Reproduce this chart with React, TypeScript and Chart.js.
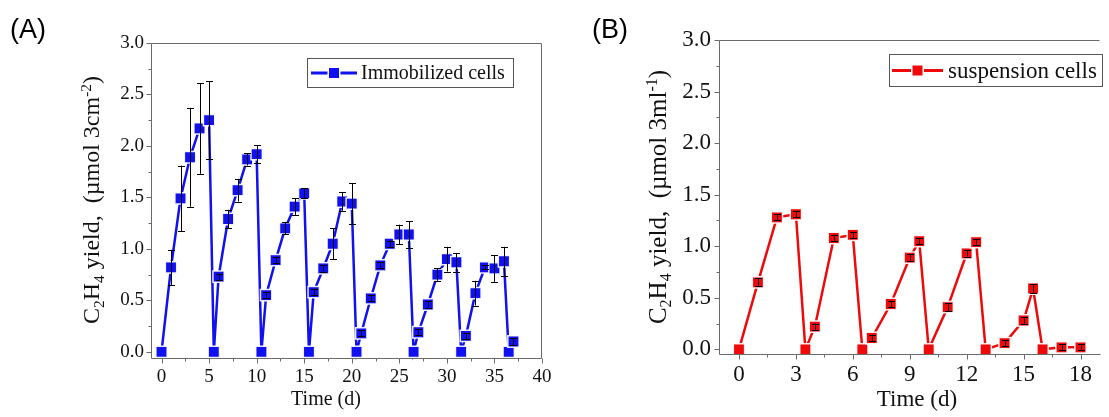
import { useEffect, useRef } from "react";
import { Chart, registerables } from "chart.js";

Chart.register(...registerables);

// Panel A: immobilized cells, repeated incubation cycles
const immobilizedDays = [0, 1, 2, 3, 4, 5, 5.5, 6, 7, 8, 9, 10, 10.5, 11, 12, 13, 14, 15, 15.5, 16, 17, 18, 19, 20, 20.5, 21, 22, 23, 24, 25, 26, 26.5, 27, 28, 29, 30, 31, 31.5, 32, 33, 34, 35, 36, 36.5, 37];
const immobilizedYield = [0, 0.82, 1.49, 1.89, 2.17, 2.25, 0, 0.73, 1.29, 1.57, 1.87, 1.92, 0, 0.55, 0.89, 1.2, 1.41, 1.54, 0, 0.58, 0.81, 1.05, 1.46, 1.44, 0, 0.18, 0.52, 0.84, 1.05, 1.14, 1.14, 0, 0.19, 0.46, 0.75, 0.9, 0.87, 0, 0.155, 0.57, 0.82, 0.81, 0.88, 0, 0.1];
const immobilizedSd = [0, 0.17, 0.32, 0.48, 0.44, 0.38, 0, 0.03, 0.09, 0.11, 0.06, 0.09, 0, 0.03, 0.03, 0.06, 0.08, 0.05, 0, 0.03, 0.03, 0.15, 0.09, 0.2, 0, 0.03, 0.03, 0.03, 0.03, 0.095, 0.13, 0, 0.03, 0.03, 0.06, 0.12, 0.09, 0, 0.03, 0.12, 0.02, 0.13, 0.14, 0, 0.03];

// Panel B: suspension cells
const suspensionDays = [0, 1, 2, 3, 3.5, 4, 5, 6, 6.5, 7, 8, 9, 9.5, 10, 11, 12, 12.5, 13, 14, 15, 15.5, 16, 17, 18];
const suspensionYield = [0, 0.65, 1.28, 1.31, 0, 0.22, 1.08, 1.11, 0, 0.11, 0.44, 0.89, 1.05, 0, 0.41, 0.93, 1.04, 0, 0.06, 0.28, 0.59, 0, 0.02, 0.02];
const suspensionSd = [0, 0.04, 0.03, 0.03, 0, 0.03, 0.03, 0.03, 0, 0.03, 0.03, 0.03, 0.03, 0, 0.04, 0.03, 0.03, 0, 0.03, 0.03, 0.04, 0, 0.03, 0.03];

// Axis ticks
const yieldMajorTicks = [0, 0.5, 1, 1.5, 2, 2.5, 3];
const yieldMinorTicks = [0.25, 0.75, 1.25, 1.75, 2.25, 2.75];
const dayMajorTicksA = [0, 5, 10, 15, 20, 25, 30, 35, 40];
const dayMinorTicksA = [2.5, 7.5, 12.5, 17.5, 22.5, 27.5, 32.5, 37.5];
const dayMajorTicksB = [0, 3, 6, 9, 12, 15, 18];
const dayMinorTicksB = [1.5, 4.5, 7.5, 10.5, 13.5, 16.5];

const SERIF = '"Liberation Serif", "Times New Roman", serif';
const SANS = '"Liberation Sans", Arial, sans-serif';
const AXIS_COLOR = "#6a6a6a";
const TEXT_COLOR = "#111";

type Seg = { t: string; k?: "sub" | "sup" };

function drawRich(ctx: CanvasRenderingContext2D, segs: Seg[], cx: number, cy: number, size: number, vertical: boolean) {
  const small = size * 0.64;
  const widths = segs.map((s) => {
    ctx.font = `${s.k ? small : size}px ${SERIF}`;
    return ctx.measureText(s.t).width;
  });
  const total = widths.reduce((a, b) => a + b, 0);
  ctx.save();
  ctx.translate(cx, cy);
  if (vertical) ctx.rotate(-Math.PI / 2);
  ctx.textBaseline = "alphabetic";
  ctx.textAlign = "left";
  ctx.fillStyle = TEXT_COLOR;
  let x = -total / 2;
  const base = size * 0.34;
  segs.forEach((s, i) => {
    ctx.font = `${s.k ? small : size}px ${SERIF}`;
    const dy = s.k === "sub" ? size * 0.2 : s.k === "sup" ? -size * 0.36 : 0;
    ctx.fillText(s.t, x, base + dy);
    x += widths[i];
  });
  ctx.restore();
}

interface PanelSpec {
  left: number;
  width: number;
  days: number[];
  values: number[];
  sd: number[];
  color: string;
  seriesName: string;
  dayMin: number;
  dayMax: number;
  yMin: number;
  dayMajors: number[];
  dayMinors: number[];
  padTop: number;
  padRight: number;
  yAxisW: number;
  xAxisH: number;
  tickFont: number;
  xTickPad: number;
  yTickPad: number;
  rightFrame: boolean;
  yTitle: Seg[];
  yTitlePos: [number, number];
  titleFont: number;
  xTitlePos: [number, number];
  xTitleFont: number;
  legend: { x: number; y: number; w: number; h: number; l0: number; l1: number; tx: number; font: number };
  panelLabel: string;
  panelLabelX: number;
}

const panelA: PanelSpec = {
  left: 0,
  width: 560,
  days: immobilizedDays,
  values: immobilizedYield,
  sd: immobilizedSd,
  color: "#1010f0",
  seriesName: "Immobilized cells",
  dayMin: -1,
  dayMax: 40,
  yMin: -0.06,
  dayMajors: dayMajorTicksA,
  dayMinors: dayMinorTicksA,
  padTop: 43,
  padRight: 18,
  yAxisW: 152,
  xAxisH: 59,
  tickFont: 19,
  xTickPad: 8,
  yTickPad: 8,
  rightFrame: true,
  yTitle: [{ t: "C" }, { t: "2", k: "sub" }, { t: "H" }, { t: "4", k: "sub" }, { t: " yield,  (\u00b5mol 3cm" }, { t: "-2", k: "sup" }, { t: ")" }],
  yTitlePos: [91, 200],
  titleFont: 24,
  xTitlePos: [326, 398],
  xTitleFont: 20,
  legend: { x: 307, y: 58, w: 206, h: 29, l0: 311, l1: 357, tx: 361, font: 20 },
  panelLabel: "(A)",
  panelLabelX: 10,
};

const panelB: PanelSpec = {
  left: 560,
  width: 549,
  days: suspensionDays,
  values: suspensionYield,
  sd: suspensionSd,
  color: "#ee0a0a",
  seriesName: "suspension cells",
  dayMin: -1,
  dayMax: 19,
  yMin: -0.045,
  dayMajors: dayMajorTicksB,
  dayMinors: dayMinorTicksB,
  padTop: 40,
  padRight: 0,
  yAxisW: 160,
  xAxisH: 63,
  tickFont: 23,
  xTickPad: 7,
  yTickPad: 9,
  rightFrame: false,
  yTitle: [{ t: "C" }, { t: "2", k: "sub" }, { t: "H" }, { t: "4", k: "sub" }, { t: " yield,  (\u00b5mol 3ml" }, { t: "-1", k: "sup" }, { t: ")" }],
  yTitlePos: [97, 197],
  titleFont: 25,
  xTitlePos: [357, 398],
  xTitleFont: 23,
  legend: { x: 329, y: 54, w: 213, h: 32, l0: 332, l1: 383, tx: 388, font: 23 },
  panelLabel: "(B)",
  panelLabelX: 32,
};

function Panel({ spec }: { spec: PanelSpec }) {
  const ref = useRef<HTMLCanvasElement | null>(null);

  useEffect(() => {
    const canvas = ref.current;
    if (!canvas) return;
    const s = spec;
    const xTickValues = [...s.dayMajors, ...s.dayMinors].sort((a, b) => a - b);
    const yTickValues = [...yieldMajorTicks, ...yieldMinorTicks].sort((a, b) => a - b);

    const decorations = {
      id: "originDecor",
      afterDatasetsDraw(chart: any) {
        const { ctx, scales } = chart;
        ctx.save();
        ctx.strokeStyle = "#000";
        ctx.lineWidth = 1;
        s.days.forEach((d, i) => {
          const e = s.sd[i];
          if (!e) return;
          const px = Math.round(scales.x.getPixelForValue(d)) + 0.5;
          const yTop = scales.y.getPixelForValue(s.values[i] + e);
          const yBot = scales.y.getPixelForValue(s.values[i] - e);
          ctx.beginPath();
          ctx.moveTo(px, yTop);
          ctx.lineTo(px, yBot);
          ctx.moveTo(px - 3.5, Math.round(yTop) + 0.5);
          ctx.lineTo(px + 3.5, Math.round(yTop) + 0.5);
          ctx.moveTo(px - 3.5, Math.round(yBot) + 0.5);
          ctx.lineTo(px + 3.5, Math.round(yBot) + 0.5);
          ctx.stroke();
        });
        ctx.restore();
      },
      afterDraw(chart: any) {
        const { ctx, chartArea: a, scales } = chart;
        ctx.save();
        // frame
        ctx.strokeStyle = AXIS_COLOR;
        ctx.lineWidth = 1;
        const L = Math.round(a.left) - 0.5;
        const T = Math.round(a.top) + 0.5;
        const B = Math.round(a.bottom) + 0.5;
        const R = Math.round(a.right) - 0.5;
        ctx.beginPath();
        ctx.moveTo(R, T);
        ctx.lineTo(L, T);
        ctx.lineTo(L, B);
        ctx.lineTo(R + (s.rightFrame ? 0 : 1), B);
        if (s.rightFrame) ctx.lineTo(R, T);
        ctx.stroke();
        // tick marks, outward
        ctx.beginPath();
        xTickValues.forEach((v) => {
          const px = Math.round(scales.x.getPixelForValue(v)) + 0.5;
          const len = s.dayMajors.includes(v) ? 5 : 3;
          ctx.moveTo(px, B);
          ctx.lineTo(px, B + len);
        });
        yTickValues.forEach((v) => {
          const py = Math.round(scales.y.getPixelForValue(v)) + 0.5;
          const len = yieldMajorTicks.includes(v) ? 5 : 3;
          ctx.moveTo(L, py);
          ctx.lineTo(L - len, py);
        });
        ctx.stroke();

        // legend
        const g = s.legend;
        ctx.fillStyle = "#fff";
        ctx.fillRect(g.x, g.y, g.w, g.h);
        ctx.strokeStyle = "#555";
        ctx.strokeRect(g.x + 0.5, g.y + 0.5, g.w, g.h);
        const cy = g.y + g.h / 2 + 0.5;
        ctx.strokeStyle = s.color;
        ctx.lineWidth = 3;
        ctx.beginPath();
        ctx.moveTo(g.l0, cy);
        ctx.lineTo(g.l1, cy);
        ctx.stroke();
        const mx = (g.l0 + g.l1) / 2;
        ctx.fillStyle = "#fff";
        ctx.fillRect(mx - 6.5, cy - 6.5, 13, 13);
        ctx.fillStyle = s.color;
        ctx.fillRect(mx - 5, cy - 5, 10, 10);
        ctx.fillStyle = TEXT_COLOR;
        ctx.font = `${g.font}px ${SERIF}`;
        ctx.textBaseline = "middle";
        ctx.textAlign = "left";
        ctx.fillText(s.seriesName, g.tx, cy + 1);

        // axis titles
        drawRich(ctx, s.yTitle, s.yTitlePos[0], s.yTitlePos[1], s.titleFont, true);
        drawRich(ctx, [{ t: "Time (d)" }], s.xTitlePos[0], s.xTitlePos[1], s.xTitleFont, false);

        // panel label
        ctx.fillStyle = "#000";
        ctx.font = `27px ${SANS}`;
        ctx.textBaseline = "alphabetic";
        ctx.fillText(s.panelLabel, s.panelLabelX, 38);
        ctx.restore();
      },
    };

    const chart = new Chart(canvas, {
      type: "line",
      data: {
        datasets: [
          {
            label: s.seriesName,
            data: s.days.map((d, i) => ({ x: d, y: s.values[i] })),
            borderColor: s.color,
            borderWidth: 2.5,
            tension: 0,
            pointStyle: "rect",
            pointRadius: 8,
            pointBackgroundColor: s.color,
            pointBorderColor: "rgba(255,255,255,0.9)",
            pointBorderWidth: 1.5,
            clip: false,
          },
        ],
      },
      options: {
        animation: false,
        responsive: false,
        events: [],
        layout: { padding: { left: 0, top: s.padTop, right: s.padRight, bottom: 0 } },
        plugins: { legend: { display: false }, tooltip: { enabled: false } },
        scales: {
          x: {
            type: "linear",
            min: s.dayMin,
            max: s.dayMax,
            grid: { display: false, drawTicks: false },
            border: { display: false },
            afterBuildTicks: (axis: any) => {
              axis.ticks = xTickValues.map((v) => ({ value: v }));
            },
            afterFit: (axis: any) => {
              axis.height = s.xAxisH;
            },
            ticks: {
              autoSkip: false,
              maxRotation: 0,
              padding: s.xTickPad,
              color: TEXT_COLOR,
              font: { family: SERIF, size: s.tickFont },
              callback: (v: any) => (s.dayMajors.includes(v) ? String(v) : ""),
            },
          },
          y: {
            type: "linear",
            min: s.yMin,
            max: 3,
            grid: { display: false, drawTicks: false },
            border: { display: false },
            afterBuildTicks: (axis: any) => {
              axis.ticks = yTickValues.map((v) => ({ value: v }));
            },
            afterFit: (axis: any) => {
              axis.width = s.yAxisW;
            },
            ticks: {
              autoSkip: false,
              padding: s.yTickPad,
              color: TEXT_COLOR,
              font: { family: SERIF, size: s.tickFont },
              callback: (v: any) => (yieldMajorTicks.includes(v) ? Number(v).toFixed(1) : ""),
            },
          },
        },
      },
      plugins: [decorations],
    } as any);

    return () => chart.destroy();
  }, [spec]);

  return (
    <canvas
      ref={ref}
      width={spec.width}
      height={417}
      style={{ position: "absolute", left: spec.left, top: 0, width: spec.width, height: 417 }}
    />
  );
}

export default function App() {
  return (
    <div style={{ position: "absolute", left: 0, top: 0, width: 1109, height: 417, overflow: "hidden", background: "#fff" }}>
      <Panel spec={panelA} />
      <Panel spec={panelB} />
    </div>
  );
}
